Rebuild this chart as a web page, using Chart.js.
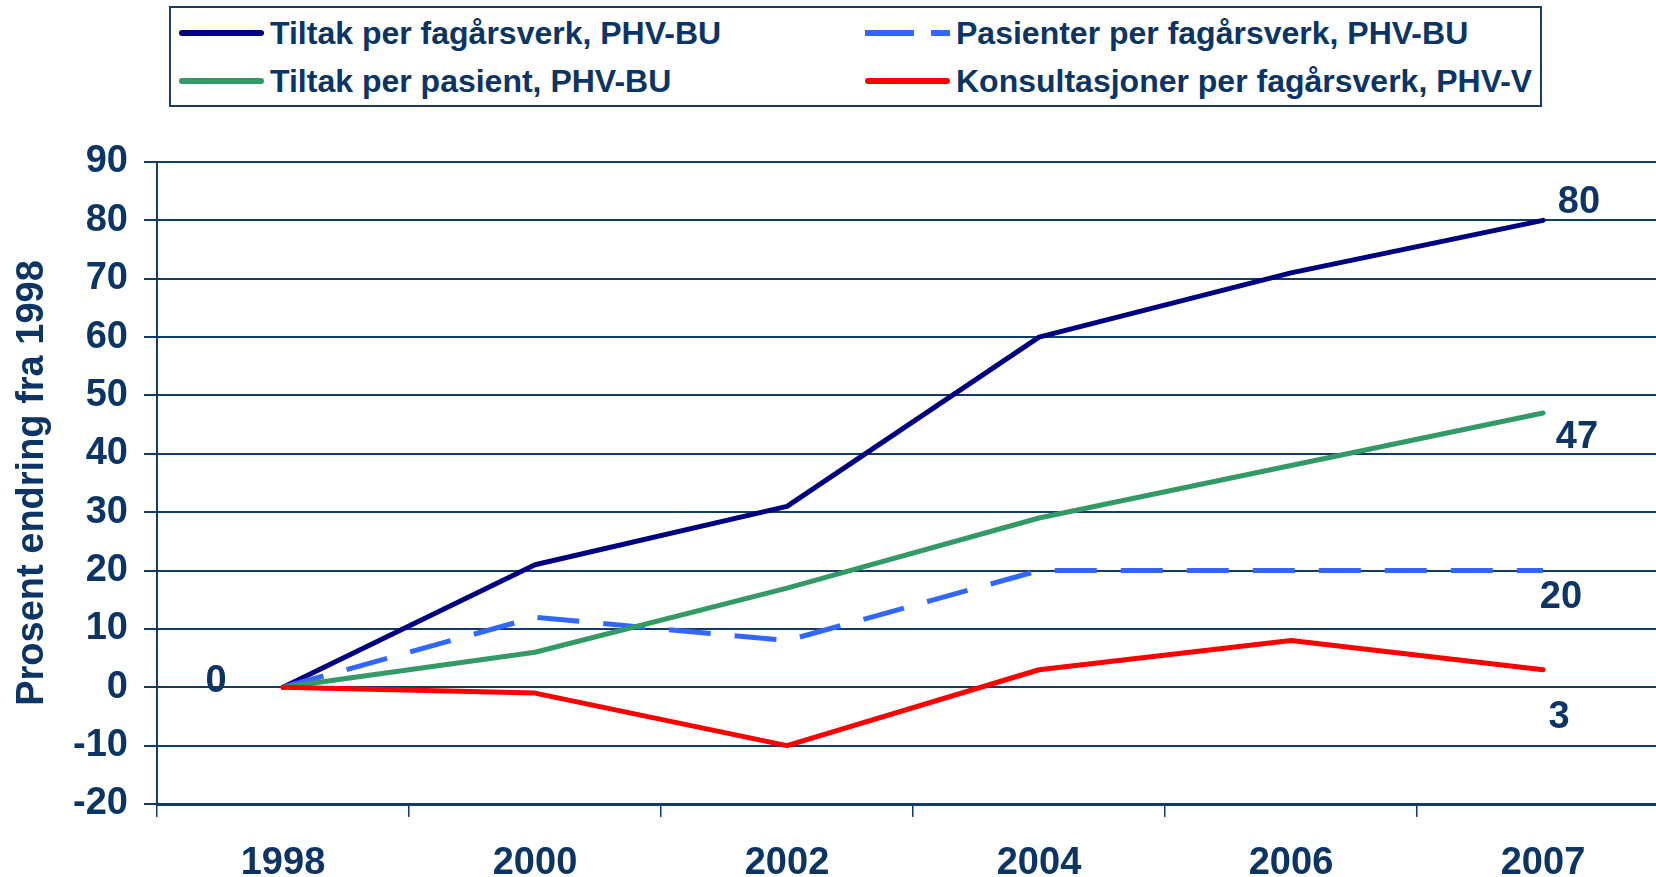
<!DOCTYPE html>
<html>
<head>
<meta charset="utf-8">
<title>Prosent endring fra 1998</title>
<script src="https://cdn.jsdelivr.net/npm/chart.js@4.4.0/dist/chart.umd.min.js"></script>
<style>
  html, body { margin: 0; padding: 0; overflow: hidden; background: #fff; }
  #wrap { position: relative; width: 1672px; height: 877px; }
  #legend {
    position: absolute; left: 169px; top: 6px;
    width: 1369px; height: 97px;
    border: 2px solid #1d3b5e; background: #fff;
  }
  .item {
    position: absolute; display: flex; align-items: center; height: 40px;
    font: bold 32px "Liberation Sans", Arial, sans-serif;
    color: #0c3464; white-space: nowrap;
  }
  .item svg { margin-right: 6px; }
</style>
</head>
<body>
<div id="wrap">
  <canvas id="chart" width="1672" height="877"></canvas>
  <div id="legend"></div>
</div>
<script>
// Data
const years = ['1998', '2000', '2002', '2004', '2006', '2007'];
const tiltakPerFagarsverk = [0, 21, 31, 60, 71, 80];
const pasienterPerFagarsverk = [0, 12, 8, 20, 20, 20];
const tiltakPerPasient = [0, 6, 17, 29, 38, 47];
const konsultasjonerPerFagarsverk = [0, -1, -10, 3, 8, 3];

const seriesNames = [
  'Tiltak per fagårsverk, PHV-BU',
  'Pasienter per fagårsverk, PHV-BU',
  'Tiltak per pasient, PHV-BU',
  'Konsultasjoner per fagårsverk, PHV-V'
];
const yAxisTitle = 'Prosent endring fra 1998';
const yMin = -20, yMax = 90, yStep = 10;

const NAVY_TEXT = '#0c3464';
const GRID = '#123c68';
const FONT = '"Liberation Sans", Arial, sans-serif';

// where the value labels sit relative to their point
const valueLabels = [
  { ds: 0, i: 5, dx: 36, dy: -18 },
  { ds: 2, i: 5, dx: 34, dy: 25 },
  { ds: 1, i: 5, dx: 18, dy: 27 },
  { ds: 3, i: 5, dx: 16, dy: 48 },
  { ds: 0, i: 0, dx: -67, dy: -6 }
];

const datasets = [
  { label: seriesNames[0], data: tiltakPerFagarsverk, borderColor: '#000080', dash: [], order: 3 },
  { label: seriesNames[1], data: pasienterPerFagarsverk, borderColor: '#3366ff', dash: [42, 24], order: 2 },
  { label: seriesNames[2], data: tiltakPerPasient, borderColor: '#339966', dash: [], order: 1 },
  { label: seriesNames[3], data: konsultasjonerPerFagarsverk, borderColor: '#ff0000', dash: [], order: 0 }
].map(d => ({
  label: d.label,
  data: d.data,
  borderColor: d.borderColor,
  backgroundColor: d.borderColor,
  borderDash: d.dash,
  borderWidth: 5,
  borderCapStyle: d.dash.length ? 'butt' : 'round',
  borderJoinStyle: 'round',
  pointRadius: 0,
  tension: 0,
  fill: false,
  order: d.order
}));

const valueLabelPlugin = {
  id: 'valueLabels',
  afterDatasetsDraw(chart) {
    const ctx = chart.ctx;
    const x = chart.scales.x, y = chart.scales.y;
    ctx.save();
    ctx.font = 'bold 38px ' + FONT;
    ctx.fillStyle = NAVY_TEXT;
    ctx.textAlign = 'center';
    ctx.textBaseline = 'middle';
    valueLabels.forEach(l => {
      const v = chart.data.datasets[l.ds].data[l.i];
      ctx.fillText(String(v), x.getPixelForValue(l.i) + l.dx, y.getPixelForValue(v) + l.dy);
    });
    ctx.restore();
  }
};

new Chart(document.getElementById('chart'), {
  type: 'line',
  data: { labels: years, datasets: datasets },
  plugins: [valueLabelPlugin],
  options: {
    responsive: false,
    animation: false,
    layout: { padding: { top: 162, left: 0, right: 3, bottom: 0 } },
    plugins: { legend: { display: false }, tooltip: { enabled: false } },
    scales: {
      x: {
        offset: true,
        afterFit: s => { s.height = 73; },
        grid: { offset: true, drawOnChartArea: false, drawTicks: true, tickLength: 13, color: GRID, lineWidth: 1.5 },
        border: { display: true, color: GRID, width: 3 },
        ticks: { color: NAVY_TEXT, font: { family: FONT, size: 38, weight: 'bold' }, padding: 24, maxRotation: 0 }
      },
      y: {
        min: yMin,
        max: yMax,
        afterFit: s => { s.width = 157; },
        grid: { color: GRID, lineWidth: 2, tickLength: 13 },
        border: { display: true, color: GRID, width: 2 },
        ticks: { stepSize: yStep, color: NAVY_TEXT, font: { family: FONT, size: 38, weight: 'bold' }, padding: 16 },
        title: {
          display: true, text: yAxisTitle, color: NAVY_TEXT,
          font: { family: FONT, size: 38, weight: 'bold' },
          padding: { top: 10, bottom: 0 }
        }
      }
    }
  }
});

// legend built from the same datasets, two columns
const legendPos = [[8, 5], [694, 5], [8, 53], [694, 53]];
const legendOrder = [0, 1, 2, 3];
const legendEl = document.getElementById('legend');
legendOrder.forEach((di, k) => {
  const d = datasets[di];
  const item = document.createElement('div');
  item.className = 'item';
  item.style.left = legendPos[k][0] + 'px';
  item.style.top = legendPos[k][1] + 'px';
  const dashed = d.borderDash.length > 0;
  item.innerHTML =
    '<svg width="85" height="12"><line x1="' + (dashed ? 0 : 3) + '" y1="6" x2="' + (dashed ? 85 : 82) +
    '" y2="6" stroke="' + d.borderColor + '" stroke-width="6" stroke-linecap="' + (dashed ? 'butt' : 'round') + '"' +
    (dashed ? ' stroke-dasharray="49 17"' : '') + '/></svg><span>' + d.label + '</span>';
  legendEl.appendChild(item);
});
</script>
</body>
</html>
